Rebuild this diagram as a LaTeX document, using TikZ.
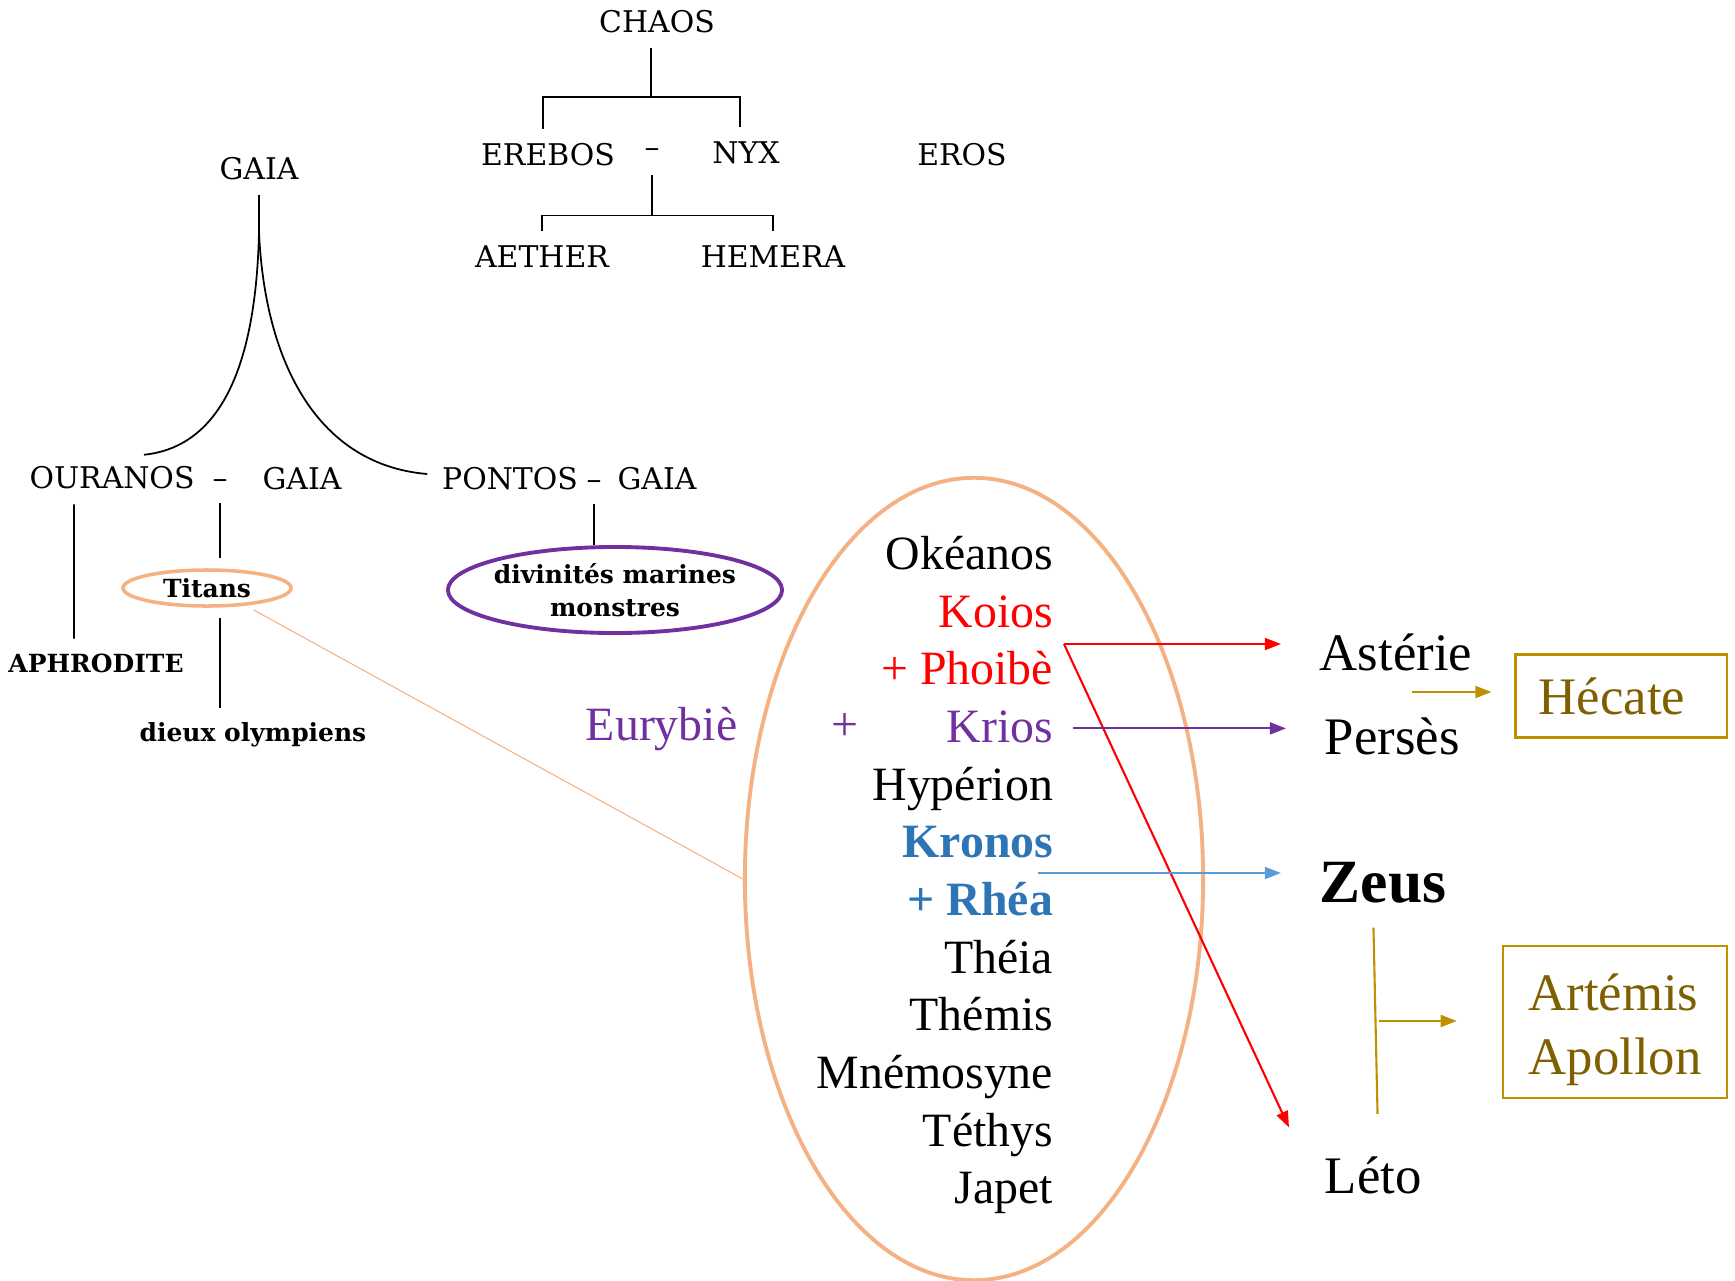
\documentclass[tikz,border=0pt]{standalone}
\usepackage{fontspec}
\setmainfont{Liberation Serif}
\newfontfamily\oldfont{DejaVu Serif}
\usepackage{tikz}
\usetikzlibrary{arrows.meta, positioning, shapes.geometric, calc}

\definecolor{ringorange}{HTML}{F4B183}
\definecolor{titanred}{HTML}{FF0000}
\definecolor{titanpurple}{HTML}{7030A0}
\definecolor{titanblue}{HTML}{2E75B6}
\definecolor{arrowblue}{HTML}{5B9BD5}
\definecolor{goldline}{HTML}{BF9000}
\definecolor{goldtext}{HTML}{7F6000}

\begin{document}
\begin{tikzpicture}[x=0.01cm, y=-0.01cm, >={Triangle[length=4.6pt,width=3.4pt]}, line width=0.5pt]
    \tikzstyle{oldname}=[font=\oldfont\fontsize{8.5}{10}\selectfont, inner sep=4pt]
    \tikzstyle{oldbold}=[font=\oldfont\bfseries\fontsize{7.1}{9.4}\selectfont, inner sep=4pt, align=center]
    \tikzstyle{titan}=[anchor=base east, inner xsep=0.19cm, font=\fontsize{13.6}{16}\selectfont]
    \tikzstyle{child}=[anchor=base west, inner xsep=0.38cm, inner ysep=0.1cm, font=\fontsize{15}{18}\selectfont]
    \tikzstyle{goldbox}=[draw=goldline, line width=0.6pt, text=goldtext, font=\fontsize{15}{18.2}\selectfont, align=left]

\useasboundingbox (0,0) rectangle (1735,1281);

% premiers dieux
\node[oldname]  (chaos)   at (657,22)   {CHAOS};
\node[oldname]  (erebos)  at (548,155)  {EREBOS};
\node[oldname]  (en)      at (652,153)  {–};
\node[oldname]  (nyx)     at (746,153)  {NYX};
\node[oldname]  (eros)    at (962,155)  {EROS};
\node[oldname]  (aether)  at (542,257)  {AETHER};
\node[oldname]  (hemera)  at (773,257)  {HEMERA};
\node[oldname]  (gaia)    at (259,169)  {GAIA};
\node[oldname]  (ouranos) at (112,478)  {OURANOS};
\node[oldname]  (og)      at (220,484)  {–};
\node[oldname]  (gaiaa)   at (302,479)  {GAIA};
\node[oldname]  (pontos)  at (510,479)  {PONTOS};
\node[oldname]  (pg)      at (594,485)  {–};
\node[oldname]  (gaiab)   at (657,479)  {GAIA};

\node[oldbold]  (aphrodite) at (96,663)  {APHRODITE};
\node[oldbold, draw=ringorange, line width=1pt, ellipse, inner sep=0pt,
      minimum width=1.68cm, minimum height=0.36cm] (titans) at (207,588) {Titans};
\node[oldbold]  (dieux)   at (253,735)  {dieux olympiens};
\node[oldbold, draw=titanpurple, line width=1.1pt, ellipse, inner xsep=-0.1cm, inner ysep=0pt,
      minimum width=3.34cm, minimum height=0.86cm] (marines) at (615,590) {divinités marines\\monstres};

\draw ([xshift=-0.06cm]chaos.south) -- ++(0,49) coordinate (chaosfork);
\draw ([xshift=-0.05cm]erebos.north) |- (chaosfork) -| ([xshift=-0.06cm]nyx.north);
\draw ([yshift=-0.03cm]en.south) -- ++(0,40) coordinate (enfork);
\draw (aether.north) |- (enfork) -| (hemera.north);

\draw (gaia.south) -- ++(0,37) coordinate (gaiafork);
\draw (gaiafork) .. controls +(-3,133) and +(77,-8) .. ($(ouranos.north)+(32,3)$);
\draw (gaiafork) .. controls +(6,133) and +(-108,-9) .. ($(pontos.west)+(0,-5)$);

\draw ([xshift=-0.38cm]ouranos.south) -- ([xshift=-0.22cm]aphrodite.north);
\draw[shorten >=3pt] (og.south) -- (og.south |- titans.north);
\draw[shorten <=3pt] (titans.south -| og.south) -- (dieux.north -| og.south);
\draw (pg.south) -- (pg.south |- marines.north);

% les Titans
\node[draw=ringorange, line width=1.1pt, ellipse, inner sep=0pt,
      minimum width=4.58cm, minimum height=8.02cm] (ring) at (974,879) {};
\draw[ringorange, line width=0.3pt] ($(titans.south east)+(-14,8)$) -- (ring.west);

\node[titan]                          (okeanos)   at (1073,569)  {Okéanos};
\node[titan, text=titanred]           (koios)     at (1073,627)  {Koios};
\node[titan, text=titanred]           (phoibe)    at (1073,684)  {+ Phoibè};
\node[titan, text=titanpurple]        (krios)     at (1073,742)  {Krios};
\node[titan]                          (hyperion)  at (1073,800)  {Hypérion};
\node[titan, text=titanblue, font=\bfseries\fontsize{13.6}{16}\selectfont] (kronos) at (1073,857) {Kronos};
\node[titan, text=titanblue, font=\bfseries\fontsize{13.6}{16}\selectfont] (rhea)   at (1073,915) {+ Rhéa};
\node[titan]                          (theia)     at (1073,973)  {Théia};
\node[titan]                          (themis)    at (1073,1030) {Thémis};
\node[titan]                          (mnemosyne) at (1073,1088) {Mnémosyne};
\node[titan]                          (tethys)    at (1073,1146) {Téthys};
\node[titan]                          (japet)     at (1073,1203) {Japet};

\node[anchor=base west, inner xsep=0pt, text=titanpurple, font=\fontsize{13.6}{16}\selectfont] (eurybie) at (585,740) {Eurybiè};
\node[anchor=base, text=titanpurple, font=\fontsize{13.6}{16}\selectfont] (plus) at (845,740) {+};

% descendants
\node[child]  (asterie) at (1281,670)  {Astérie};
\node[child]  (perses)  at (1286,754)  {Persès};
\node[child, font=\bfseries\fontsize{17.5}{20}\selectfont] (zeus) at (1281,902) {Zeus};
\node[child]  (leto)    at (1286,1193) {Léto};

\node[goldbox, minimum width=2.11cm, minimum height=0.83cm] (hecate)   at (1621,696)  {Hécate\kern0.18cm};
\node[goldbox, minimum width=2.24cm, minimum height=1.49cm] (artemis)  at (1615,1022) {\rule{0pt}{0.53cm}Artémis\\Apollon};

\coordinate (kp) at (1064,644);
\coordinate (kr) at (1038,873);
\coordinate (ap) at (1412,692);
\coordinate (zl) at (1379,1021);

\draw[->, titanred, line width=0.6pt] (kp) -- (kp -| asterie.west);
\draw[->, titanred, line width=0.6pt] (kp) -- ($(leto.north west)+(3,-18)$);
\draw[->, titanpurple, line width=0.6pt] ([yshift=-0.02cm]krios.east) -- ([yshift=-0.02cm]krios.east -| perses.west);
\draw[->, arrowblue, line width=0.6pt] (kr) -- (kr -| zeus.west);
\draw[->, goldline, line width=0.6pt, shorten >=6.5pt] (ap) -- (ap -| hecate.west);
\draw[goldline, line width=0.6pt, shorten <=4pt, shorten >=9pt] ([xshift=-0.1cm]zeus.south) -- ([xshift=0.05cm]leto.north);
\draw[->, goldline, line width=0.6pt, shorten >=12.8pt] (zl) -- (zl -| artemis.west);
\end{tikzpicture}
\end{document}
